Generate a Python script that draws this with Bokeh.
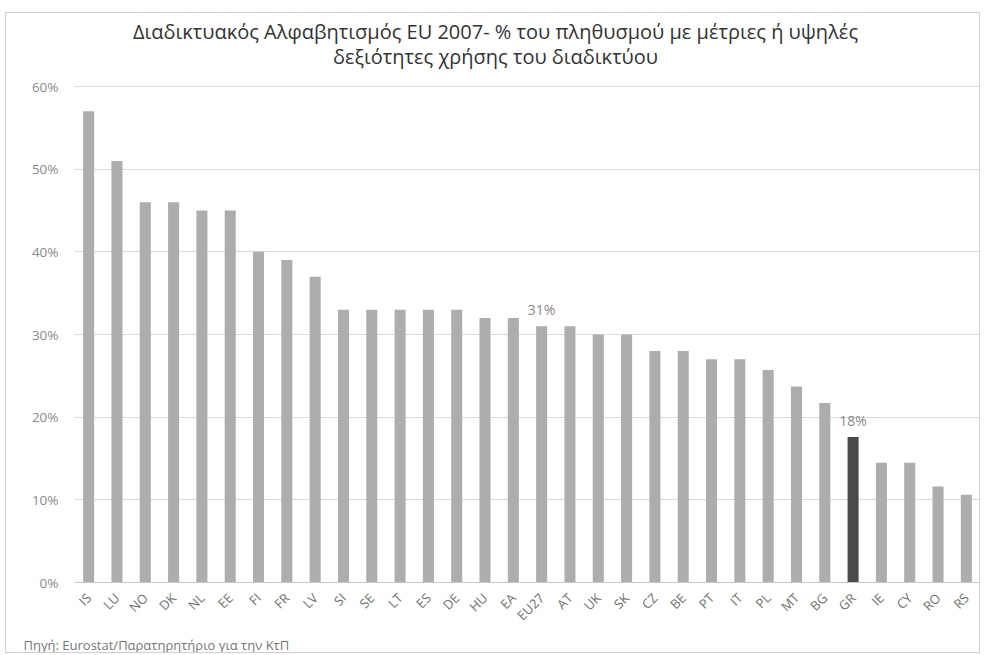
import math
from bokeh.plotting import figure
from bokeh.models import (ColumnDataSource, FactorRange, FixedTicker, PrintfTickFormatter,
                          Label, Title, Range1d)
from bokeh.embed import file_html
from bokeh.resources import INLINE

countries = ["IS", "LU", "NO", "DK", "NL", "EE", "FI", "FR", "LV", "SI", "SE", "LT", "ES",
             "DE", "HU", "EA", "EU27", "AT", "UK", "SK", "CZ", "BE", "PT", "IT", "PL", "MT",
             "BG", "GR", "IE", "CY", "RO", "RS"]
values = [57, 51, 46, 46, 45, 45, 40, 39, 37, 33, 33, 33, 33,
          33, 32, 32, 31, 31, 30, 30, 28, 28, 27, 27, 25.7, 23.7,
          21.7, 17.6, 14.5, 14.5, 11.6, 10.6]
y_ticks = [0, 10, 20, 30, 40, 50, 60]
annotated = {"EU27": "31%", "GR": "18%"}

title_1 = "Διαδικτυακός Αλφαβητισμός EU 2007- % του πληθυσμού με μέτριες ή υψηλές"
title_2 = "δεξιότητες χρήσης του διαδικτύου"
source_note = "Πηγή: Eurostat/Παρατηρητήριο για την ΚτΠ"

FONT = "Open Sans"

# layout (canvas pixels): frame spans from canvas top to y=569, 60% line at y=73
W, H = 975, 641
FRAME_BOTTOM, TOP_TICK_Y = 569, 73
y_max = y_ticks[-1] * FRAME_BOTTOM / (FRAME_BOTTOM - TOP_TICK_Y)

colors = ["#4a4a4a" if c == "GR" else "#adadad" for c in countries]
src = ColumnDataSource(dict(x=countries, top=values, color=colors))

p = figure(width=W, height=H, x_range=FactorRange(*countries, range_padding=0),
           y_range=Range1d(0, y_max), output_backend="svg", toolbar_location=None,
           min_border_left=68, min_border_right=1, min_border_top=0,
           min_border_bottom=H - FRAME_BOTTOM)
p.margin = (12, 0, 0, 5)
p.styles = {"border": "1px solid #cfcfcf"}
p.outline_line_color = None
p.background_fill_color = "white"
p.border_fill_color = "white"

p.vbar(x="x", top="top", width=0.39, source=src, fill_color="color", line_color=None)

p.xgrid.grid_line_color = None
p.ygrid.grid_line_color = "#b4b4b4"
p.ygrid.grid_line_dash = "1 1"
p.ygrid.ticker = FixedTicker(ticks=y_ticks)

p.yaxis.ticker = FixedTicker(ticks=y_ticks)
p.yaxis.formatter = PrintfTickFormatter(format="%d%%")
p.yaxis.axis_line_color = None
p.yaxis.major_tick_line_color = None
p.yaxis.minor_tick_line_color = None
p.yaxis.major_label_standoff = 10
p.yaxis.major_label_text_font = FONT
p.yaxis.major_label_text_font_size = "13.5px"
p.yaxis.major_label_text_color = "#8a8a8a"

p.xaxis.axis_line_color = "#c8c8c8"
p.xaxis.major_tick_line_color = None
p.xaxis.major_label_orientation = math.pi / 4
p.xaxis.major_label_standoff = 7
p.xaxis.major_label_text_font = FONT
p.xaxis.major_label_text_font_size = "13px"
p.xaxis.major_label_text_color = "#707070"

for c, t in annotated.items():
    v = values[countries.index(c)]
    p.add_layout(Label(x=countries.index(c) + 0.5, y=v + 2.0, text=t, text_align="center",
                       text_baseline="middle", text_font=FONT, text_font_size="14px",
                       text_color="#8a8a8a"))

# titles drawn inside the (tall) frame, screen units relative to the frame's bottom-left
for txt, cy in ((title_1, 18), (title_2, 43)):
    p.add_layout(Label(x=489 - 68, y=FRAME_BOTTOM - cy, x_units="screen", y_units="screen",
                       text=txt, text_align="center", text_baseline="middle",
                       text_font=FONT, text_font_size="20px", text_color="#333333"))

p.add_layout(Title(text=source_note, align="left", offset=-51, standoff=0, text_font=FONT,
                   text_font_size="13px", text_font_style="normal",
                   text_color="#777777"),
             "below")

open("out.html", "w").write(file_html(p, INLINE))
